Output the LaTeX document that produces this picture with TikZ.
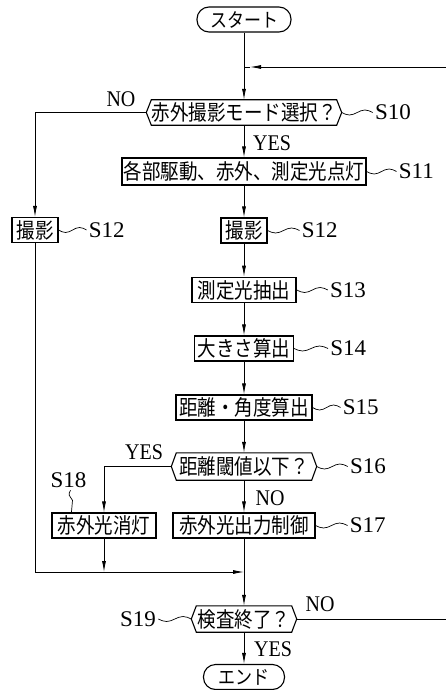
\documentclass[tikz,border=0pt]{standalone}
\usepackage{fontspec}
\setmainfont{Liberation Serif}
\newfontfamily\cjk{Noto Sans CJK JP}
\usetikzlibrary{arrows.meta}
\newcommand\jf{\cjk\fontsize{18.5}{20}\selectfont}
\newcommand\lf{\fontsize{20}{22}\selectfont}
\newcommand\hexa[1]{\draw[boxline] (#1.north west) -- (#1.north east) -- ([xshift=5pt]#1.east) -- (#1.south east) -- (#1.south west) -- ([xshift=-5pt]#1.west) -- cycle;}
\newcommand\lab[1]{\scalebox{1}[1.12]{#1}}
\newcommand\slab[1]{\scalebox{1.15}[1.12]{#1}}
\newcommand\jt[1]{\scalebox{1}[1.15]{#1}}
\begin{document}
\begin{tikzpicture}[x=1pt,y=-1pt,
 line/.style={line width=0.8pt},
 arr/.style={line width=0.8pt,-{Latex[length=11pt,width=4pt]}},
 boxline/.style={line width=1.1pt},
 box/.style={draw,line width=1.1pt,inner sep=0pt,minimum height=25pt,font=\jf},
 hex/.style={inner sep=0pt,minimum height=25pt,font=\jf},
 term/.style={draw,line width=1.1pt,rounded corners=12pt,inner sep=0pt,minimum height=25pt,font=\cjk\fontsize{17}{18}\selectfont},
 lbl/.style={inner sep=2pt,font=\lf},
 lead/.style={line width=0.7pt}]
\useasboundingbox (0,0) rectangle (446,690);
\clip (0,0) rectangle (446,690);

% nodes
\node[term,minimum width=94pt] (start) at (244,19.5) {\jt{スタート}};
\node[hex,minimum width=184pt] (s10) at (244,112.5) {\jt{赤外撮影モード選択？}};
\hexa{s10}
\node[box,minimum width=244pt,minimum height=27pt] (s11) at (244,171.5) {\jt{各部駆動、赤外、測定光点灯}};
\node[box,minimum width=46pt] (s12a) at (35,230) {\jt{撮影}};
\node[box,minimum width=46pt] (s12) at (244,230.5) {\jt{撮影}};
\node[box,minimum width=104pt,line width=1.6pt] (s13) at (244,290) {\jt{測定光抽出}};
\node[box,minimum width=99pt] (s14) at (244,348.5) {\jt{大きさ算出}};
\node[box,minimum width=136pt] (s15) at (244,407.5) {\jt{距離・角度算出}};
\node[hex,minimum width=135pt,minimum height=27pt] (s16) at (244,466.5) {\jt{距離閾値以下？}};
\hexa{s16}
\node[box,minimum width=104pt] (s18) at (104,525.5) {\jt{赤外光消灯}};
\node[box,minimum width=142pt] (s17) at (244,525.5) {\jt{赤外光出力制御}};
\node[hex,minimum width=95pt,minimum height=26pt] (s19) at (244,619) {\jt{検査終了？}};
\hexa{s19}
\node[term,minimum width=81pt] (end) at (244,677) {\jt{エンド}};

% helper coordinates
\coordinate (s10w) at ([xshift=-5pt]s10.west);
\coordinate (s10e) at ([xshift=5pt]s10.east);
\coordinate (s16w) at ([xshift=-5pt]s16.west);
\coordinate (s16e) at ([xshift=5pt]s16.east);
\coordinate (s19w) at ([xshift=-5pt]s19.west);
\coordinate (s19e) at ([xshift=5pt]s19.east);
\coordinate (j1) at (244,67);
\coordinate (j1a) at (250,67);
\coordinate (r1) at (452,619);
\coordinate (r2) at (452,67);
\coordinate (m0) at (35,572);
\coordinate (m1) at (104,572);
\coordinate (m2) at (244,572);
\coordinate (q18) at ([xshift=20pt]s18.north west);

% connectors
\draw[arr] (start) -- (s10);
\draw[arr] (s10) -- (s11);
\draw[arr] (s11) -- (s12);
\draw[arr] (s12) -- (s13);
\draw[arr] (s13) -- (s14);
\draw[arr] (s14) -- (s15);
\draw[arr] (s15) -- (s16);
\draw[arr] (s16) -- (s17);
\draw[arr] (s16w) -| (s18);
\draw[arr] (s10w) -| (s12a);
\draw[line] (s12a) -- (m0);
\draw[arr] (m0) -- (m2);
\draw[arr] (s18) -- (m1);
\draw[line] (s17) -- (m2);
\draw[arr] (m2) -- (s19);
\draw[arr] (s19) -- (end);
\draw[arr] (s19e) -- (r1) -- (r2) -- (j1a);
\draw[line] (j1a) -- (j1);

% branch labels
\node[lbl] (no1) at (121,99.5) {\lab{NO}};
\node[lbl] (yes1) at (272,143) {\lab{YES}};
\node[lbl] (yes2) at (144,452.5) {\lab{YES}};
\node[lbl] (no2) at (270,498) {\lab{NO}};
\node[lbl] (no3) at (320,604.5) {\lab{NO}};
\node[lbl] (yes3) at (273,649.5) {\lab{YES}};

% step leaders and labels
\draw[lead] (s10e) sin ++(7.75,2.5) cos ++(7.75,-2.5) sin ++(7.75,-2.5) cos ++(7.75,2.5) node[lbl,anchor=west] (t10) {\slab{S10}};
\draw[lead] (s11.east) sin ++(7.5,2.5) cos ++(7.5,-2.5) sin ++(7.5,-2.5) cos ++(7.5,2.5) node[lbl,anchor=west] (t11) {\slab{S11}};
\draw[lead] (s12a.east) sin ++(7,2.5) cos ++(7,-2.5) sin ++(7,-2.5) cos ++(7,2.5) node[lbl,anchor=west] (t12a) {\slab{S12}};
\draw[lead] (s12.east) sin ++(8,2.5) cos ++(8,-2.5) sin ++(8,-2.5) cos ++(8,2.5) node[lbl,anchor=west] (t12) {\slab{S12}};
\draw[lead] (s13.east) sin ++(7.75,2.5) cos ++(7.75,-2.5) sin ++(7.75,-2.5) cos ++(7.75,2.5) node[lbl,anchor=west] (t13) {\slab{S13}};
\draw[lead] (s14.east) sin ++(8.5,2.5) cos ++(8.5,-2.5) sin ++(8.5,-2.5) cos ++(8.5,2.5) node[lbl,anchor=west] (t14) {\slab{S14}};
\draw[lead] (s15.east) sin ++(7,2.5) cos ++(7,-2.5) sin ++(7,-2.5) cos ++(7,2.5) node[lbl,anchor=west] (t15) {\slab{S15}};
\draw[lead] (s16e) sin ++(7.75,2.5) cos ++(7.75,-2.5) sin ++(7.75,-2.5) cos ++(7.75,2.5) node[lbl,anchor=west] (t16) {\slab{S16}};
\draw[lead] (s17.east) sin ++(8,2.5) cos ++(8,-2.5) sin ++(8,-2.5) cos ++(8,2.5) node[lbl,anchor=west] (t17) {\slab{S17}};
\draw[lead] (s19w) sin ++(-8.25,-2.5) cos ++(-8.25,2.5) sin ++(-8.25,2.5) cos ++(-8.25,-2.5) node[lbl,anchor=east] (t19) {\slab{S19}};
\node[lbl] (t18) at (68.5,480.5) {\slab{S18}};
\draw[lead] ([xshift=2pt]t18.south) .. controls +(-3,5) and +(-3,-5) .. ++(2,10) -- (q18);
\end{tikzpicture}
\end{document}
